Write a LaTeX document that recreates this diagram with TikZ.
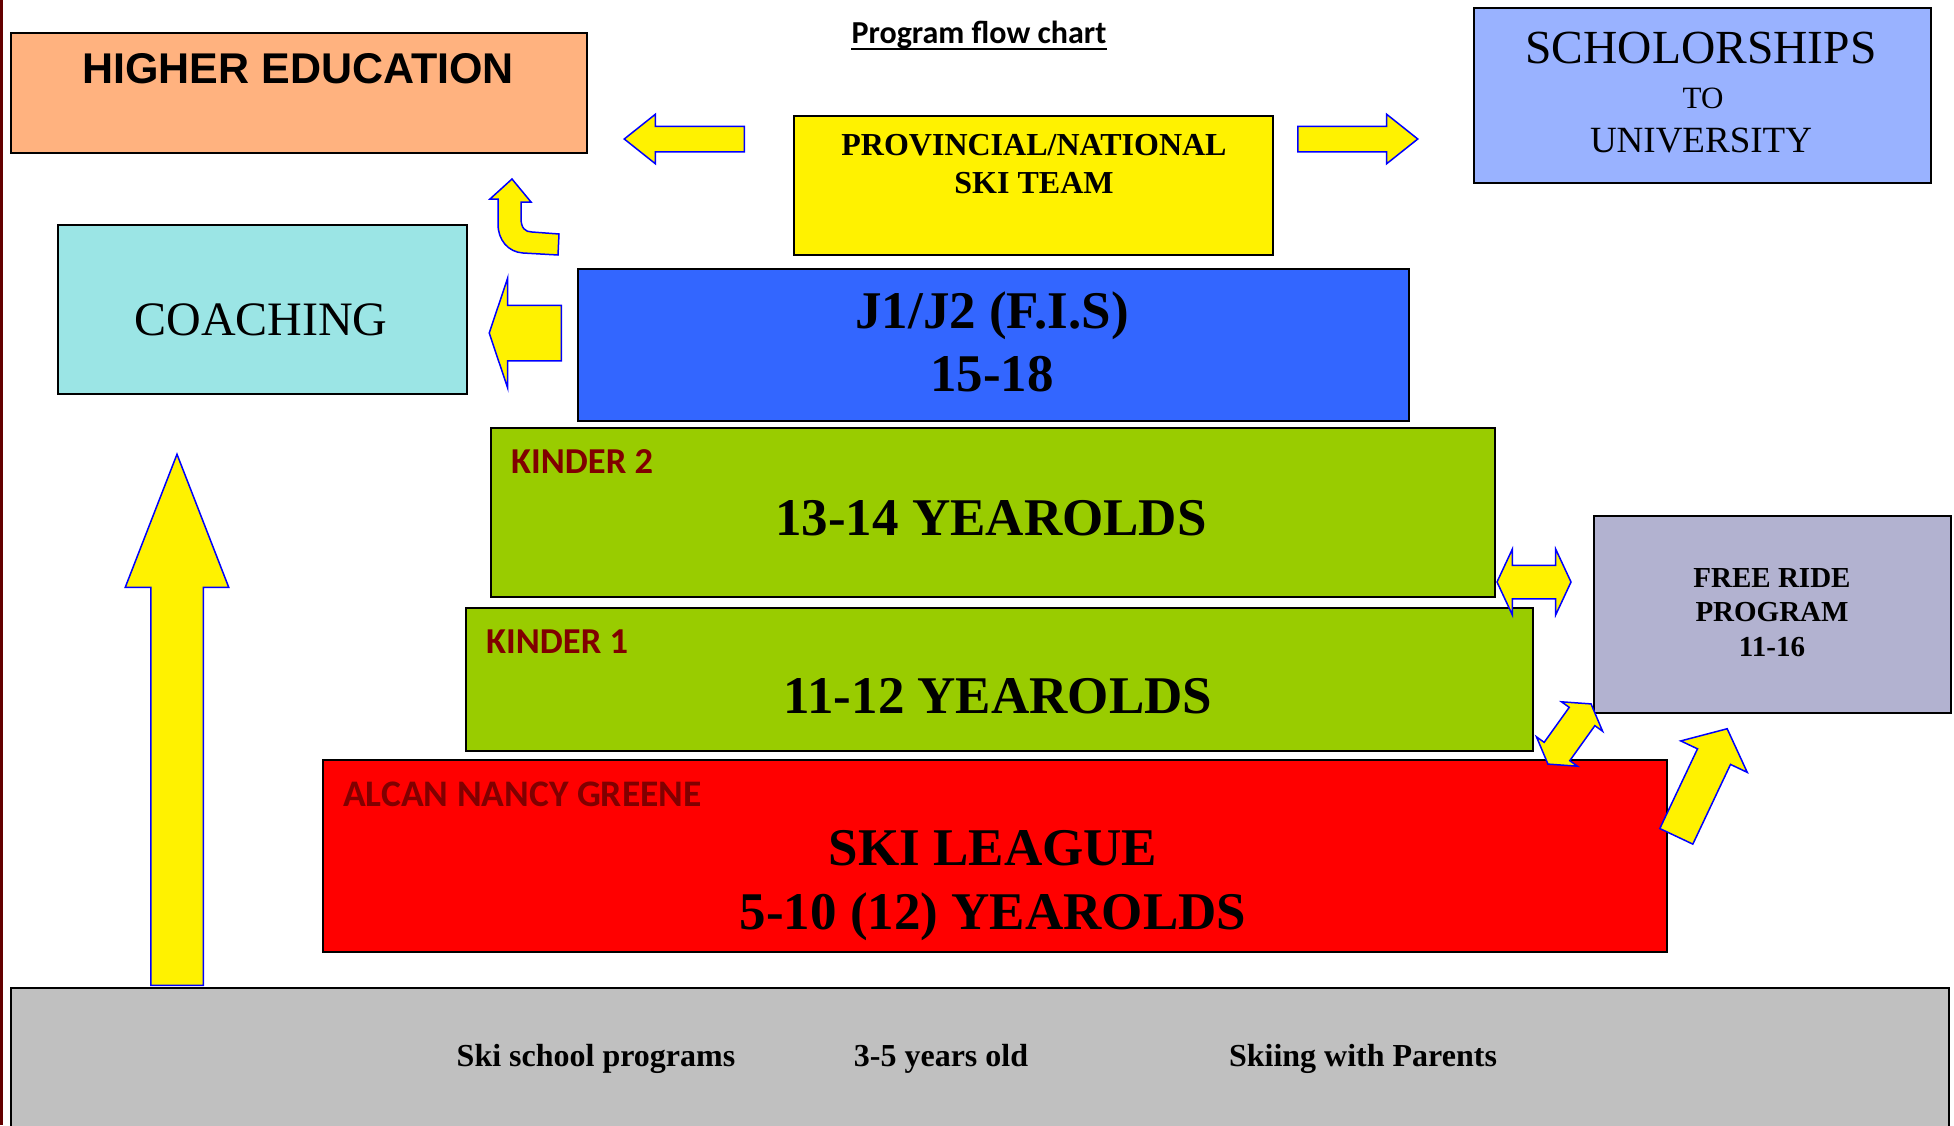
\documentclass[tikz,border=0pt]{standalone}
\usepackage{fontspec}
\setmainfont{Liberation Serif}
\newfontfamily\arialfont{Liberation Sans}
\newfontfamily\calfont{Carlito}
\usepackage{tikz}
\usetikzlibrary{shapes.arrows,positioning}
\definecolor{peach}{RGB}{255,178,127}
\definecolor{scholarblue}{RGB}{153,178,255}
\definecolor{coachcyan}{RGB}{155,229,229}
\definecolor{fisblue}{RGB}{51,102,255}
\definecolor{kindergreen}{RGB}{153,204,0}
\definecolor{freegrey}{RGB}{178,178,208}
\definecolor{basegrey}{RGB}{192,192,192}
\definecolor{tagred}{RGB}{128,0,0}
\definecolor{edgered}{RGB}{100,0,0}
\newcommand{\pxsize}[1]{\fontsize{#1}{#1}\selectfont}

\begin{document}
\begin{tikzpicture}[x=1pt,y=-1pt,
	box/.style={draw=black,line width=2pt,inner sep=0pt,anchor=north west},
	txt/.style={inner sep=0pt,anchor=base},
	big/.style={txt,font=\bfseries\pxsize{53}},
	tag/.style={inner sep=0pt,anchor=base west,text=tagred,font=\calfont\bfseries\pxsize{36.5}},
	yfill/.style={fill=yellow,draw=blue,line width=1.5pt,line join=miter},
	yarrow/.style={yfill,single arrow,inner xsep=0pt,anchor=tail},
	ydarrow/.style={yfill,double arrow,inner xsep=0pt}]
	\useasboundingbox (0,0) rectangle (1954,1125);
	\clip (0,0) rectangle (1954,1125);
	\draw[edgered,line width=3pt] (1.5,0) -- (1.5,1125);
	
	% boxes
	\node[box,fill=peach,minimum width=576pt,minimum height=120pt] (higher) at (10,32) {};
	\node[box,fill=scholarblue,minimum width=457pt,minimum height=175pt] (scholar) at (1473,7) {};
	\node[box,fill=yellow,minimum width=479pt,minimum height=139pt] (team) at (793,115) {};
	\node[box,fill=coachcyan,minimum width=409pt,minimum height=169pt] (coach) at (57,224) {};
	\node[box,fill=fisblue,minimum width=831pt,minimum height=152pt] (fis) at (577,268) {};
	\node[box,fill=kindergreen,minimum width=1004pt,minimum height=169pt] (kinder2) at (490,427) {};
	\node[box,fill=kindergreen,minimum width=1067pt,minimum height=143pt] (kinder1) at (465,607) {};
	\node[box,fill=red,minimum width=1344pt,minimum height=192pt] (league) at (322,759) {};
	\node[box,fill=freegrey,minimum width=357pt,minimum height=197pt] (free) at (1593,515) {};
	\node[box,fill=basegrey,minimum width=1938pt,minimum height=160pt] (school) at (10,987) {};
	
	% texts
	\node[txt,font=\calfont\bfseries\pxsize{32}] (title) at (979,43) {Program flow chart};
	\draw[line width=2.5pt] ([yshift=-6pt]title.base west) -- ([yshift=-6pt]title.base east);
	\node[txt,font=\arialfont\bfseries\pxsize{43}] (highertxt) at (298,83) {HIGHER EDUCATION};
	\node[txt,font=\pxsize{47.5}] (scholartxt) at (1701,63) {SCHOLORSHIPS};
	\node[txt,font=\pxsize{31}] (scholarto) at (1703,108) {TO};
	\node[txt,font=\pxsize{37}] (scholaruni) at (1701,152) {UNIVERSITY};
	\node[txt,font=\bfseries\pxsize{32}] (teamtxt) at (1034,155) {PROVINCIAL/NATIONAL};
	\node[txt,font=\bfseries\pxsize{32}] (teamski) at ([yshift=-38pt]teamtxt.base) {SKI TEAM};
	\node[txt,font=\pxsize{48}] (coachtxt) at (261,335) {COACHING};
	\node[big] (fistxt) at (992,328) {J1/J2 (F.I.S)};
	\node[big] (fisage) at ([yshift=-63pt]fistxt.base) {15-18};
	\node[tag] (kinder2tag) at (511,473) {KINDER 2};
	\node[big] (kinder2txt) at (991,535) {13-14 YEAROLDS};
	\node[tag] (kinder1tag) at (486,653) {KINDER 1};
	\node[big] (kinder1txt) at (998,713) {11-12 YEAROLDS};
	\node[tag,font=\calfont\bfseries\pxsize{37.5}] (leaguetag) at (343,806) {ALCAN NANCY GREENE};
	\node[big] (leaguetxt) at (993,865) {SKI LEAGUE};
	\node[big] (leagueage) at ([yshift=-64pt]leaguetxt.base) {5-10 (12) YEAROLDS};
	\node[txt,font=\bfseries\pxsize{29}] (freetxt) at (1772,587) {FREE RIDE};
	\node[txt,font=\bfseries\pxsize{29}] (freeprog) at ([yshift=-34.5pt]freetxt.base) {PROGRAM};
	\node[txt,font=\bfseries\pxsize{29}] (freeage) at ([yshift=-69pt]freetxt.base) {11-16};
	\node[txt,font=\bfseries\pxsize{32}] (schoolprog) at (596,1066) {Ski school programs};
	\node[txt,font=\bfseries\pxsize{32}] (schoolage) at (941,1066) {3-5 years old};
	\node[txt,font=\bfseries\pxsize{32}] (schoolpar) at (1363,1066) {Skiing with Parents};
	
	% block arrows
	\node[yarrow,rotate=180,minimum height=120pt,inner ysep=12pt,
		single arrow head extend=12pt,single arrow tip angle=77] (toHigher) at (745,139) {};
	\node[yarrow,minimum height=120pt,inner ysep=12pt,
		single arrow head extend=12pt,single arrow tip angle=77] (toScholar) at (1297,139) {};
	\node[yarrow,rotate=180,minimum height=72pt,inner ysep=27pt,
		single arrow head extend=27.5pt,single arrow tip angle=143] (toCoach) at (562,333) {};
	\node[yarrow,rotate=90,minimum height=531pt,inner ysep=25.5pt,
		single arrow head extend=25.5pt,single arrow tip angle=42.5] (upArrow) at (177,986) {};
	\node[yarrow,rotate=64.7,minimum height=119pt,inner ysep=17.5pt,
		single arrow head extend=18.5pt,single arrow tip angle=100] (toFree) at (1676,837) {};
	\node[ydarrow,minimum height=74pt,inner ysep=16pt,
		double arrow head extend=16pt,double arrow tip angle=130] (kinder2free) at (1534,582) {};
	\node[ydarrow,rotate=54.4,minimum height=74pt,inner ysep=15pt,
		double arrow head extend=9.5pt,double arrow tip angle=117] (kinder1free) at (1569.5,734) {};
	\draw[yfill] (512,179) -- (531,202) -- (521,202) -- (521,218)
		.. controls (521,228) and (525,232) .. (532,232) -- (559,234) -- (558,255) -- (523,253)
		.. controls (508,252) and (498,240) .. (498,224) -- (498,199) -- (490,199) -- cycle;
\end{tikzpicture}
\end{document}
